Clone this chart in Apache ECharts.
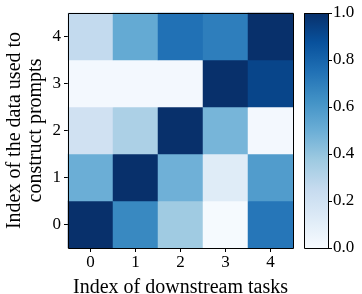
<!DOCTYPE html>
<html>
<head>
<meta charset="utf-8">
<script src="https://cdn.jsdelivr.net/npm/echarts@6/dist/echarts.min.js"></script>
<style>
  html, body { margin: 0; padding: 0; background: #fff; }
  #chart { width: 362px; height: 294px; }
</style>
</head>
<body>
<div id="chart"></div>
<script>
// tasks on x, prompt data on y
const taskLabels = ['0', '1', '2', '3', '4'];
const promptLabels = ['0', '1', '2', '3', '4'];
// rows from y=0 (bottom) to y=4 (top)
const scores = [
  [1.0, 0.66, 0.37, 0.01, 0.73],
  [0.50, 1.0, 0.49, 0.12, 0.58],
  [0.20, 0.33, 1.0, 0.47, 0.02],
  [0.02, 0.02, 0.02, 1.0, 0.92],
  [0.26, 0.52, 0.75, 0.70, 1.0]
];
const colorTicks = [0, 0.2, 0.4, 0.6, 0.8, 1.0];

// matplotlib Blues
const blues = ['#f7fbff', '#deebf7', '#c6dbef', '#9ecae1', '#6baed6', '#4292c6', '#2171b5', '#08519c', '#08306b'];

const FONT = 'Liberation Serif';

const cells = [];
scores.forEach((row, y) => {
  row.forEach((v, x) => cells.push([x, y, v]));
});

const chart = echarts.init(document.getElementById('chart'));

const tickStyle = { show: true, length: 4, lineStyle: { color: '#000', width: 1 } };

const mainGrid = { left: 68, top: 13, width: 225, height: 235, outerBoundsMode: 'none' };
const barGrid = { left: 304, top: 13, width: 24, height: 235, outerBoundsMode: 'none' };

// black frame drawn on top of a grid
function border(g) {
  return {
    type: 'rect', z: 100, silent: true,
    shape: { x: g.left + 0.5, y: g.top + 0.5, width: g.width, height: g.height },
    style: { fill: null, stroke: '#000', lineWidth: 1 }
  };
}

chart.setOption({
  animation: false,
  grid: [mainGrid, barGrid],
  graphic: [border(mainGrid), border(barGrid)],
  xAxis: [
    {
      type: 'category', data: taskLabels, gridIndex: 0, position: 'bottom',
      axisLine: { show: false },
      axisTick: Object.assign({ alignWithLabel: true }, tickStyle),
      axisLabel: { color: '#000', fontFamily: FONT, fontSize: 17, margin: 6 },
      name: 'Index of downstream tasks', nameLocation: 'middle', nameGap: 30,
      nameTextStyle: { color: '#000', fontFamily: FONT, fontSize: 20 },
      splitLine: { show: false }
    },
    {
      type: 'category', data: ['c'], gridIndex: 1, show: false
    }
  ],
  yAxis: [
    {
      type: 'category', data: promptLabels, gridIndex: 0, position: 'left',
      axisLine: { show: false },
      axisTick: Object.assign({ alignWithLabel: true }, tickStyle),
      axisLabel: { color: '#000', fontFamily: FONT, fontSize: 17, margin: 7 },
      name: 'Index of the data used to\nconstruct prompts', nameLocation: 'middle', nameGap: 22,
      nameMoveOverlap: false,
      nameRotate: 90,
      nameTextStyle: { color: '#000', fontFamily: FONT, fontSize: 20, lineHeight: 21 },
      splitLine: { show: false }
    },
    {
      type: 'value', gridIndex: 1, position: 'right', min: 0, max: 1, interval: 0.2,
      axisLine: { show: false },
      axisTick: tickStyle,
      axisLabel: {
        color: '#000', fontFamily: FONT, fontSize: 17, margin: 5,
        formatter: v => colorTicks.includes(Math.round(v * 10) / 10) ? v.toFixed(1) : ''
      },
      splitLine: { show: false }
    }
  ],
  visualMap: {
    show: false, min: 0, max: 1, seriesIndex: 0,
    inRange: { color: blues }
  },
  series: [
    {
      type: 'heatmap', xAxisIndex: 0, yAxisIndex: 0, data: cells,
      itemStyle: { borderWidth: 0 }
    },
    {
      type: 'bar', xAxisIndex: 1, yAxisIndex: 1, data: [1], barWidth: '100%',
      itemStyle: {
        color: new echarts.graphic.LinearGradient(0, 0, 0, 1,
          blues.slice().reverse().map((c, i) => ({ offset: i / (blues.length - 1), color: c })))
      },
      silent: true
    }
  ]
});
</script>
</body>
</html>
